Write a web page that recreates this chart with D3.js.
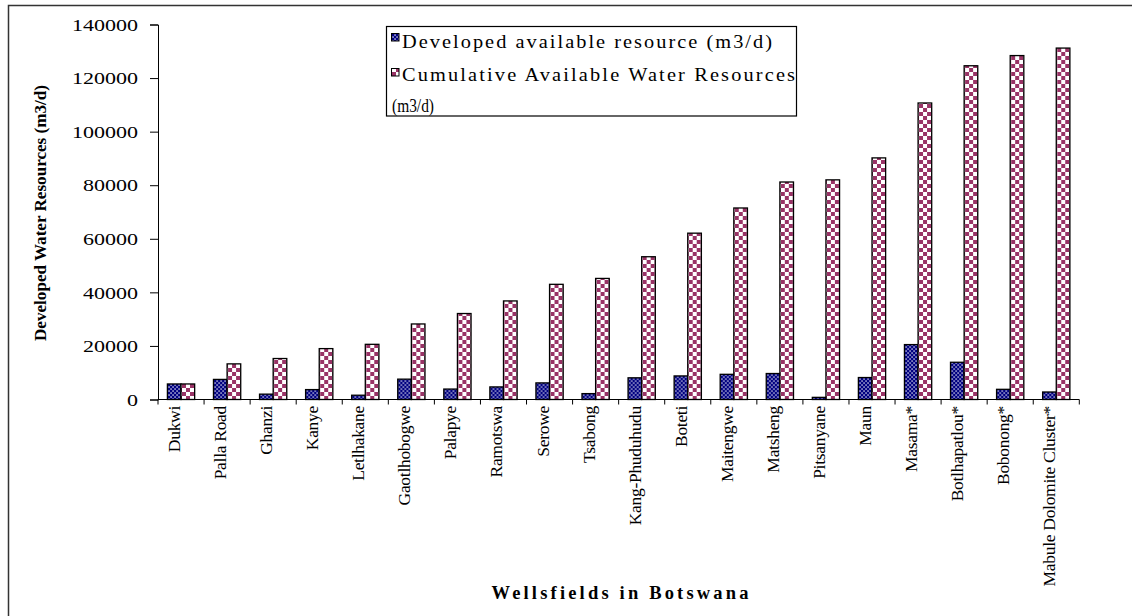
<!DOCTYPE html>
<html>
<head>
<meta charset="utf-8">
<script src="https://cdn.jsdelivr.net/npm/d3@7"></script>
<style>
  html, body { margin: 0; padding: 0; background: #fff; }
  svg { display: block; }
  text { font-family: "Liberation Serif", "Times New Roman", serif; fill: #000; }
</style>
</head>
<body>
<svg id="chart" width="1132" height="616"></svg>
<script>
// Wellfields in Botswana: developed yield per wellfield and running total (m3/d)
const wellfields = [
  "Dukwi", "Palla Road", "Ghanzi", "Kanye", "Letlhakane", "Gaotlhobogwe",
  "Palapye", "Ramotswa", "Serowe", "Tsabong", "Kang-Phuduhudu", "Boteti",
  "Maitengwe", "Matsheng", "Pitsanyane", "Maun", "Masama*", "Botlhapatlou*",
  "Bobonong*", "Mabule Dolomite Cluster*"
];
const developed = [
  5800, 7500, 2000, 3700, 1600, 7600, 3900, 4700, 6200, 2200,
  8100, 8800, 9400, 9700, 800, 8200, 20500, 13900, 3800, 2800
];
const cumulative = [
  5800, 13300, 15300, 19000, 20600, 28200, 32100, 36800, 43000, 45200,
  53300, 62100, 71500, 81200, 82000, 90200, 110700, 124600, 128400, 131200
];
const seriesNames = [
  "Developed available resource (m3/d)",
  "Cumulative Available Water Resources (m3/d)"
];
const yTicks = [0, 20000, 40000, 60000, 80000, 100000, 120000, 140000];

const svg = d3.select("#chart");

// fill patterns: small navy checker and large maroon checker
const defs = svg.append("defs");
const pNavy = defs.append("pattern").attr("id", "pat-dev")
  .attr("patternUnits", "userSpaceOnUse").attr("width", 4).attr("height", 4);
pNavy.append("rect").attr("width", 4).attr("height", 4).attr("fill", "#000080");
pNavy.append("rect").attr("x", 0.4).attr("y", 0.4).attr("width", 1.3).attr("height", 1.3).attr("fill", "#fff");
pNavy.append("rect").attr("x", 2.4).attr("y", 2.4).attr("width", 1.3).attr("height", 1.3).attr("fill", "#fff");

const pMaroon = defs.append("pattern").attr("id", "pat-cum")
  .attr("patternUnits", "userSpaceOnUse").attr("width", 8).attr("height", 8);
pMaroon.append("rect").attr("width", 8).attr("height", 8).attr("fill", "#fff");
pMaroon.append("rect").attr("x", 0).attr("y", 0).attr("width", 4).attr("height", 4).attr("fill", "#993366");
pMaroon.append("rect").attr("x", 4).attr("y", 4).attr("width", 4).attr("height", 4).attr("fill", "#993366");

const fills = ["url(#pat-dev)", "url(#pat-cum)"];

// outer frame
svg.append("rect")
  .attr("x", 8.5).attr("y", 5.5).attr("width", 1140).attr("height", 640)
  .attr("fill", "none").attr("stroke", "#333").attr("stroke-width", 1.5);

const plot = { left: 158, right: 1079.3, top: 24.5, bottom: 399.5 };

const x = d3.scaleBand().domain(wellfields).range([plot.left, plot.right])
  .paddingInner(0).paddingOuter(0);
const x1 = d3.scaleBand().domain([0, 1]).range([0, x.bandwidth()])
  .paddingInner(0).paddingOuter(0.69);
const y = d3.scaleLinear().domain([0, 140000]).range([plot.bottom, plot.top]);

// bars
const groups = svg.append("g").selectAll("g")
  .data(wellfields.map((w, i) => ({ w, vals: [developed[i], cumulative[i]] })))
  .join("g")
  .attr("transform", d => `translate(${x(d.w)},0)`);

groups.selectAll("rect")
  .data(d => d.vals.map((v, k) => ({ v, k })))
  .join("rect")
  .attr("x", d => x1(d.k))
  .attr("width", x1.bandwidth())
  .attr("y", d => y(d.v))
  .attr("height", d => y(0) - y(d.v))
  .attr("fill", d => fills[d.k])
  .attr("stroke", "#000")
  .attr("stroke-width", 1.3);

// y axis
const yAxis = svg.append("g")
  .attr("transform", `translate(${plot.left},0)`)
  .call(d3.axisLeft(y).tickValues(yTicks).tickSize(8).tickPadding(12).tickFormat(d3.format("d")));
yAxis.select(".domain").attr("stroke", "#000");
yAxis.selectAll(".tick line").attr("stroke", "#000");
yAxis.selectAll(".tick text")
  .attr("font-size", 17)
  .attr("font-family", "Liberation Serif")
  .attr("dy", "0.34em")
  .attr("textLength", d => String(d).length * 11)
  .attr("lengthAdjust", "spacingAndGlyphs");

// x axis: tick marks at category boundaries
const xAxisG = svg.append("g");
xAxisG.append("line")
  .attr("x1", plot.left).attr("x2", plot.right)
  .attr("y1", plot.bottom).attr("y2", plot.bottom)
  .attr("stroke", "#000");
const bounds = wellfields.map(w => x(w)).concat([x(wellfields[wellfields.length - 1]) + x.bandwidth()]);
xAxisG.selectAll("line.tk").data(bounds).join("line")
  .attr("class", "tk")
  .attr("x1", d => d).attr("x2", d => d)
  .attr("y1", plot.bottom).attr("y2", plot.bottom + 5)
  .attr("stroke", "#000");

xAxisG.selectAll("text").data(wellfields).join("text")
  .attr("transform", d => `translate(${x(d) + x.bandwidth() / 2 - 1},${plot.bottom + 6.5}) rotate(-90)`)
  .attr("text-anchor", "end")
  .attr("font-size", 17.5)
  .attr("letter-spacing", "-0.3px")
  .text(d => d);

// axis titles
svg.append("text")
  .attr("transform", `translate(46,213) rotate(-90)`)
  .attr("text-anchor", "middle")
  .attr("font-weight", "bold")
  .attr("font-size", 16.5)
  .attr("textLength", 256)
  .attr("lengthAdjust", "spacingAndGlyphs")
  .text("Developed Water Resources (m3/d)");

svg.append("text")
  .attr("x", 620).attr("y", 599)
  .attr("text-anchor", "middle")
  .attr("font-weight", "bold")
  .attr("font-size", 18.5)
  .attr("textLength", 257)
  .attr("lengthAdjust", "spacing")
  .text("Wellsfields in Botswana");

// legend
const lg = svg.append("g");
lg.append("rect")
  .attr("x", 386.5).attr("y", 26.5).attr("width", 410).attr("height", 89.5)
  .attr("fill", "#fff").attr("stroke", "#000").attr("stroke-width", 1.2);
lg.append("rect").attr("x", 391.5).attr("y", 33.5).attr("width", 7.5).attr("height", 7.5)
  .attr("fill", fills[0]).attr("stroke", "#000").attr("stroke-width", 1);
lg.append("rect").attr("x", 391.5).attr("y", 68.5).attr("width", 7.5).attr("height", 7.5)
  .attr("fill", fills[1]).attr("stroke", "#000").attr("stroke-width", 1);

// legend labels: slightly widened glyphs, spread to the box width
const stretch = 1.1;
function legendLine(tx, ty, str, width) {
  lg.append("g")
    .attr("transform", `translate(${tx},${ty}) scale(${stretch},1)`)
    .append("text")
    .attr("font-size", 18.5)
    .attr("textLength", width / stretch)
    .attr("lengthAdjust", "spacing")
    .text(str);
}
const cumWords = seriesNames[1].split(" (");
legendLine(402, 47.5, seriesNames[0], 370);
legendLine(402, 80.5, cumWords[0], 393);
lg.append("text").attr("x", 392).attr("y", 112).attr("font-size", 18.5)
  .attr("textLength", 42).attr("lengthAdjust", "spacingAndGlyphs")
  .text("(" + cumWords[1]);
</script>
</body>
</html>
